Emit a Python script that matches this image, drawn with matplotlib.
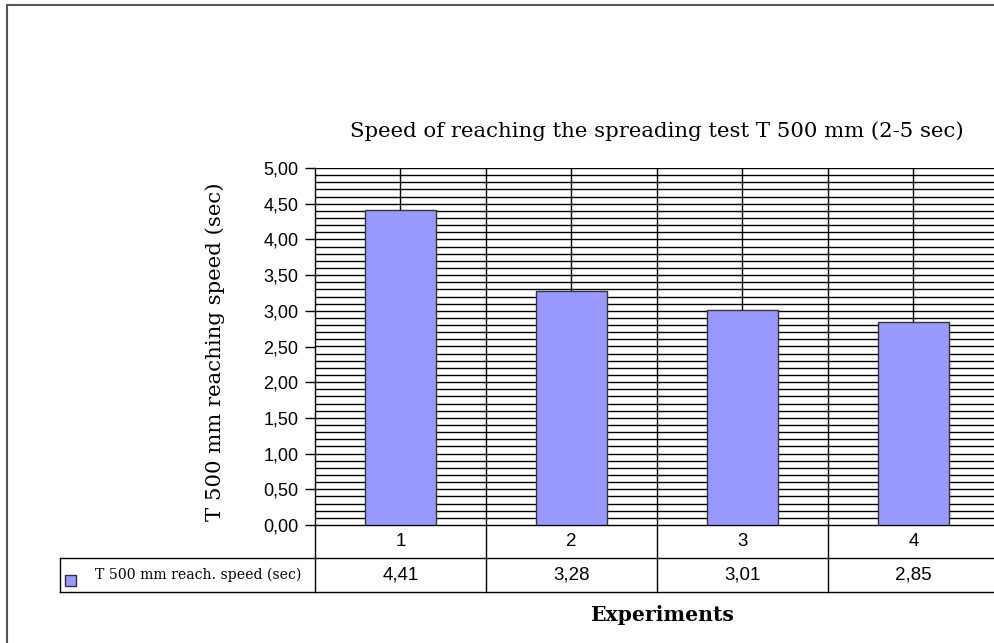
import numpy as np
import matplotlib.pyplot as plt
import matplotlib.transforms as mtransforms
from matplotlib.patches import Rectangle

experiments = ["1", "2", "3", "4"]
speeds = [4.41, 3.28, 3.01, 2.85]
series_name = "T 500 mm reach. speed (sec)"
y_ticks = [0.0, 0.5, 1.0, 1.5, 2.0, 2.5, 3.0, 3.5, 4.0, 4.5, 5.0]

W, H = 995, 643
fig = plt.figure(figsize=(W / 100, H / 100), dpi=100)

# plot area in pixel terms
x0, x1, ytop, ybot = 315, 999, 168, 525
ax = fig.add_axes([x0 / W, 1 - ybot / H, (x1 - x0) / W, (ybot - ytop) / H])

n = len(experiments)
xs = np.arange(n)
ax.set_xlim(-0.5, n - 0.5)
ax.set_ylim(0, 5)

# horizontal grid every 0.1
for g in np.arange(0.1, 5.0001, 0.1):
    ax.axhline(g, color="black", lw=1.0, zorder=1)
# vertical lines: category borders and centres
for b in np.arange(0.5, n - 0.5, 1):
    ax.axvline(b, color="black", lw=1.0, zorder=1)
for c in xs:
    ax.axvline(c, color="black", lw=1.0, zorder=1)

ax.bar(xs, speeds, width=0.41, color="#9999FF", edgecolor="#333333",
       linewidth=1.0, zorder=3)

ax.set_yticks(y_ticks)
ax.set_yticklabels([f"{t:.2f}".replace(".", ",") for t in y_ticks],
                   fontfamily="Liberation Sans", fontsize=13)
ax.tick_params(axis="y", direction="out", length=7, width=1, pad=5)
ax.set_xticks([])
for s in ["top", "right", "bottom"]:
    ax.spines[s].set_visible(False)
ax.spines["left"].set_linewidth(1.0)

# data table under the plot
trans = mtransforms.blended_transform_factory(ax.transData, fig.transFigure)
fy = lambda p: 1 - p / H
row1, row2, row3 = 525, 558, 592
kw = dict(color="black", lw=1.0, clip_on=False, transform=trans)
ax.plot([-0.5, n - 0.5], [fy(row1)] * 2, **kw)
ax.plot([-0.5, n - 0.5], [fy(row2)] * 2, **kw)
ax.plot([-0.5, n - 0.5], [fy(row3)] * 2, **kw)
for b in np.arange(-0.5, n - 0.5, 1):
    ax.plot([b, b], [fy(row1), fy(row3)], **kw)
# legend cell
fig.add_artist(plt.Line2D([60 / W, x0 / W], [fy(row2)] * 2, color="black", lw=1.0))
fig.add_artist(plt.Line2D([60 / W, x0 / W], [fy(row3)] * 2, color="black", lw=1.0))
fig.add_artist(plt.Line2D([60 / W, 60 / W], [fy(row2), fy(row3)], color="black", lw=1.0))
fig.add_artist(Rectangle((65 / W, fy(586)), 11 / W, 11 / H, facecolor="#9999FF",
                         edgecolor="#333333", lw=1.0))
fig.text(95 / W, fy((row2 + row3) / 2), series_name, family="DejaVu Serif",
         fontsize=10.1, ha="left", va="center")

for x, lab, v in zip(xs, experiments, speeds):
    ax.text(x, fy((row1 + row2) / 2), lab, transform=trans, ha="center", va="center",
            family="Liberation Sans", fontsize=13.5)
    ax.text(x, fy((row2 + row3) / 2), f"{v:.2f}".replace(".", ","), transform=trans,
            ha="center", va="center", family="Liberation Sans", fontsize=13.5)

fig.text(657 / W, fy(131), "Speed of reaching the spreading test T 500 mm (2-5 sec)",
         family="DejaVu Serif", fontsize=15.3, ha="center", va="center")
fig.text(215 / W, fy(352), "T 500 mm reaching speed (sec)", family="DejaVu Serif",
         fontsize=15.3, rotation=90, ha="center", va="center")
fig.text(662 / W, fy(615), "Experiments", family="DejaVu Serif", fontsize=14.7,
         fontweight="bold", ha="center", va="center")

# outer chart border
fig.add_artist(Rectangle((7 / W, -0.1), 1.2, 1 - 5 / H + 0.1, transform=fig.transFigure,
                         fill=False, edgecolor="#555555", lw=1.5))

fig.savefig("out.png", dpi=100)
